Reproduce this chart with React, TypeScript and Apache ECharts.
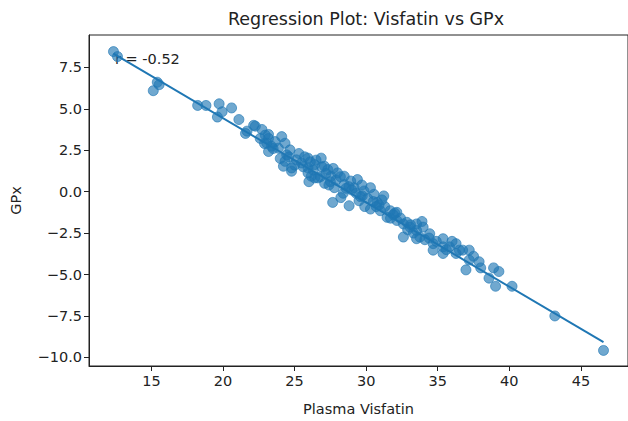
import React, { useEffect, useRef } from "react";
import * as echarts from "echarts";

const visfatin: number[] = [
  12.35, 12.63, 15.41, 15.13, 15.54, 18.23, 18.81, 19.73, 19.61, 19.94, 20.6,
  21.11, 21.57, 21.68, 22.14, 22.26, 22.72, 22.6, 22.95, 23.18, 23.18, 23.39, 23.06, 23.18,
  23.64, 24.1, 24.33, 23.87, 24.68, 24.45, 24.22, 24.79, 25.13, 25.48, 25.94, 26.4,
  26.86, 27.09, 27.32, 26.17, 26.63, 25.94, 27.54, 28.0, 28.47, 28.92, 29.39, 28.47,
  27.78, 29.16, 27.66, 28.23, 28.81, 29.5, 29.73, 29.85, 30.3, 30.54, 31.23, 30.77,
  30.3, 30.99, 31.68, 32.14, 31.46, 32.14, 32.84, 33.07, 32.6, 33.52, 33.98, 34.44,
  33.75, 34.68, 35.37, 35.82, 36.28, 35.37, 36.74, 37.2, 36.97, 36.28, 32.6, 33.52,
  33.52, 34.68, 35.37, 36.51, 37.2, 37.89, 38.58, 39.27, 39.04, 40.19, 43.18, 46.58,
  24.33, 24.79, 25.94, 26.4, 25.3, 25.7, 26.1, 26.5, 26.9, 27.2, 27.5, 27.9, 28.2,
  28.6, 29.0, 29.3, 29.7, 30.1, 30.5, 30.9, 31.3, 31.7, 32.0, 32.4, 28.4, 27.1, 26.0,
  24.0, 23.5, 22.9, 25.0, 26.3, 27.7, 29.9, 31.1, 33.3, 34.1, 34.9, 35.6, 36.0, 37.5,
  38.0, 38.9, 33.9, 32.9, 25.6, 26.8, 27.4, 28.8, 29.6, 30.7, 31.9, 24.6, 33.1, 34.4,
];
const gpx: number[] = [
  8.45, 8.15, 6.6, 6.09, 6.45, 5.2, 5.2, 5.3, 4.5, 4.82, 5.05,
  4.35, 3.51, 3.65, 4.0, 3.95, 3.75, 3.21, 3.41, 3.21, 3.45, 2.74, 2.92, 2.42,
  3.02, 3.32, 2.92, 2.62, 2.52, 2.22, 1.53, 1.23, 1.92, 1.73, 2.02, 1.63,
  2.02, 1.53, 1.33, 0.93, 0.83, 1.13, 0.93, 1.13, 0.93, 0.64, 0.73, 0.43,
  0.24, 0.24, -0.65, -0.36, -0.85, -0.55, -0.26, 0.04, 0.24, -0.16, -0.26, -0.65,
  -1.05, -1.15, -1.15, -1.25, -1.55, -1.74, -1.85, -2.14, -2.74, -1.95, -2.14, -2.54,
  -2.74, -3.14, -2.84, -3.33, -3.14, -3.73, -3.53, -4.13, -4.72, -3.73, -1.95, -2.34,
  -2.84, -3.53, -3.33, -3.53, -3.53, -4.23, -5.22, -4.82, -5.71, -5.71, -7.5, -9.58,
  1.83, 1.43, 1.43, 0.83, 2.3, 2.1, 1.8, 1.9, 1.5, 1.1, 0.6, 0.7, 0.9,
  0.2, 0.1, -0.1, 0.4, -0.4, -0.6, -0.8, -0.9, -1.6, -1.3, -1.6, -0.1, 0.5, 0.6,
  2.0, 2.6, 2.9, 1.6, 1.3, 1.4, -0.9, -0.5, -2.5, -2.9, -3.0, -3.5, -3.0, -3.9,
  -4.6, -4.6, -1.8, -2.3, 1.5, 0.9, 0.4, 0.3, -0.3, -0.9, -1.4, 2.1, -2.0, -2.8,
];

const fitX: number[] = [12.35, 46.58];
const fitY: number[] = [8.32, -9.08];

const xTicks: number[] = [15, 20, 25, 30, 35, 40, 45];
const yTicks: number[] = [-10, -7.5, -5, -2.5, 0, 2.5, 5, 7.5];

const titleText = "Regression Plot: Visfatin vs GPx";
const xLabel = "Plasma Visfatin";
const yLabel = "GPx";
const annotation = "r = -0.52";

export default function App() {
  const ref = useRef<HTMLDivElement>(null);
  useEffect(() => {
    if (!ref.current) return;
    const chart = echarts.init(ref.current, undefined, { renderer: "svg" });
    const font = "DejaVu Sans";
    const points = visfatin.map((x, i) => [x, gpx[i]]);
    const line = fitX.map((x, i) => [x, fitY[i]]);
    chart.setOption({
      animation: false,
      backgroundColor: "#ffffff",
      textStyle: { fontFamily: font },
      title: {
        text: titleText,
        left: 361,
        textAlign: "center",
        top: 5,
        textStyle: { fontFamily: font, fontSize: 17.5, fontWeight: "normal", color: "#222" },
      },
      grid: {
        left: 88,
        top: 35,
        right: -6,
        bottom: 50,
        show: true,
        borderColor: "#222",
        borderWidth: 1,
        backgroundColor: "transparent",
      },
      xAxis: {
        type: "value",
        min: 10.64,
        max: 48.29,
        name: xLabel,
        nameLocation: "middle",
        nameGap: 35,
        nameTextStyle: { fontFamily: font, fontSize: 14.5, color: "#222" },
        axisLine: { show: true, onZero: false, lineStyle: { color: "#222", width: 1 } },
        axisTick: { show: true, inside: false, length: 5, customValues: xTicks, lineStyle: { color: "#222" } },
        axisLabel: { customValues: xTicks, fontFamily: font, fontSize: 14.5, color: "#222", margin: 7 },
        splitLine: { show: false },
      },
      yAxis: {
        type: "value",
        min: -10.52,
        max: 9.45,
        name: yLabel,
        nameLocation: "middle",
        nameGap: 66,
        nameTextStyle: { fontFamily: font, fontSize: 14.5, color: "#222" },
        axisLine: { show: true, onZero: false, lineStyle: { color: "#222", width: 1 } },
        axisTick: { show: true, inside: false, length: 5, customValues: yTicks, lineStyle: { color: "#222" } },
        axisLabel: {
          customValues: yTicks,
          fontFamily: font,
          fontSize: 14.5,
          color: "#222",
          margin: 7,
          formatter: (v: number) => v.toFixed(1).replace("-", "\u2212"),
        },
        splitLine: { show: false },
      },
      graphic: [
        {
          type: "text",
          left: 115,
          top: 51,
          z: 1,
          style: { text: annotation, fontFamily: font, fontSize: 14.5, fill: "#222" },
        },
      ],
      series: [
        {
          type: "scatter",
          data: points,
          symbol: "circle",
          symbolSize: 10,
          z: 3,
          itemStyle: {
            color: "rgba(31,119,180,0.8)",
            borderColor: "rgba(31,119,180,0.8)",
            borderWidth: 1,
          },
        },
        {
          type: "line",
          data: line,
          symbol: "none",
          z: 4,
          lineStyle: { color: "#1f77b4", width: 2 },
        },
      ],
    });
    return () => chart.dispose();
  }, []);
  return (
    <div
      ref={ref}
      style={{ position: "fixed", left: 0, top: 0, width: 628, height: 421, background: "#fff" }}
    />
  );
}
